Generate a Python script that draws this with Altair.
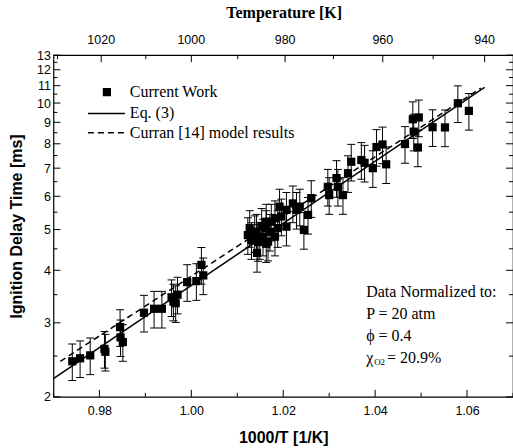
import altair as alt
import pandas as pd

# ---------------- data ----------------
inv_T = [0.9741, 0.9758, 0.9780, 0.9811, 0.9813, 0.9845, 0.9846, 0.9851, 0.9897, 0.9919,
         0.9936, 0.9957, 0.9961, 0.9966, 0.9970, 0.9991, 1.0011, 1.0022, 1.0026,
         1.0123, 1.0131, 1.0138, 1.0142, 1.0143, 1.0149, 1.0156, 1.0163, 1.0167, 1.0171,
         1.0174, 1.0182, 1.0182, 1.0192, 1.0196, 1.0207, 1.0207, 1.0221, 1.0229, 1.0236,
         1.0163, 1.0163, 1.0127, 1.0153, 1.0188, 1.0145,
         1.0245, 1.0254, 1.0261, 1.0297, 1.0300, 1.0316, 1.0319, 1.0330, 1.0341, 1.0348,
         1.0370, 1.0377, 1.0395, 1.0403, 1.0416, 1.0424, 1.0465, 1.0482, 1.0495, 1.0484,
         1.0493, 1.0525, 1.0552, 1.0580, 1.0604]
tau = [2.43, 2.47, 2.51, 2.60, 2.56, 2.93, 2.77, 2.70, 3.17, 3.24,
       3.24, 3.45, 3.37, 3.34, 3.50, 3.75, 3.77, 4.12, 3.89,
       4.85, 4.72, 4.90, 4.94, 4.40, 4.72, 4.81, 5.04, 4.68, 4.94,
       5.22, 4.81, 5.32, 5.67, 5.37, 5.08, 5.57, 5.77, 5.57, 5.67,
       5.22, 4.64, 5.04, 5.10, 5.04, 4.67,
       4.99, 5.42, 5.94, 6.32, 6.04, 6.63, 6.32, 6.04, 6.81, 7.25,
       7.32, 7.21, 7.00, 7.86, 7.97, 7.15, 7.99, 9.15, 9.24, 8.55,
       7.84, 8.76, 8.75, 9.99, 9.58]
rel_err = 0.10  # +/- 10 % error bars

eq3_x = [0.97, 1.0638]
eq3_y = [2.21, 10.9]
curran_x = [0.9715, 1.063]
curran_y = [2.43, 10.85]

x_major = [0.98, 1.00, 1.02, 1.04, 1.06]
x_minor = [0.97, 0.99, 1.01, 1.03, 1.05, 1.07]
y_major = [2, 3, 4, 5, 6, 7, 8, 9, 10, 11, 12, 13]
y_minor = [2.5, 3.5, 4.5, 5.5, 6.5, 7.5, 8.5, 9.5, 10.5, 11.5, 12.5]
temp_major = [1020, 1000, 980, 960, 940]
temp_minor = [1030, 1010, 990, 970, 950]

legend_labels = ["Current Work", "Eq. (3)", "Curran [14] model results"]
note_lines = ["Data Normalized to:", "P = 20 atm", "\u03d5 = 0.4"]

# ---------------- tables ----------------
pts = pd.DataFrame({"x": inv_T, "y": tau})
pts["lo"] = pts["y"] * (1 - rel_err)
pts["hi"] = pts["y"] * (1 + rel_err)
eq3 = pd.DataFrame({"x": eq3_x, "y": eq3_y})
cur = pd.DataFrame({"x": curran_x, "y": curran_y})
xmaj = pd.DataFrame({"x": x_major})
xmin = pd.DataFrame({"x": x_minor})
ymaj = pd.DataFrame({"y": y_major})
ymin = pd.DataFrame({"y": y_minor})
tmaj = pd.DataFrame({"x": [1000.0 / t for t in temp_major], "label": [str(t) for t in temp_major]})
tmin = pd.DataFrame({"x": [1000.0 / t for t in temp_minor]})
one = pd.DataFrame({"a": [0]})

W, H = 460, 342
SANS = "Liberation Sans"
SERIF = "Liberation Serif"

xs = alt.Scale(domain=[0.97, 1.07], nice=False, zero=False)
ys = alt.Scale(type="log", domain=[2, 13], nice=False)
xaxis = alt.Axis(values=x_major, format=".2f", ticks=False, domain=False, grid=False,
                 labelFont=SANS, labelFontSize=12.5, labelColor="black", labelPadding=8,
                 title="1000/T [1/K]", titleFont=SANS, titleFontSize=16, titleFontWeight="bold",
                 titleColor="black", titlePadding=12)
yaxis = alt.Axis(values=y_major, format="d", ticks=False, domain=False, grid=False,
                 labelFont=SANS, labelFontSize=12.5, labelColor="black", labelPadding=3,
                 title="Ignition Delay Time [ms]", titleFont=SANS, titleFontSize=16,
                 titleFontWeight="bold", titleColor="black", titlePadding=12)

X = lambda f="x": alt.X(f"{f}:Q", scale=xs, axis=xaxis)
Y = lambda f="y": alt.Y(f"{f}:Q", scale=ys, axis=yaxis)

bars = alt.Chart(pts).mark_rule(color="black", strokeWidth=1).encode(
    x=X(), y=Y("lo"), y2="hi:Q")
cap_lo = alt.Chart(pts).mark_tick(orient="horizontal", size=8, thickness=1, color="black", opacity=1).encode(
    x=X(), y=Y("lo"))
cap_hi = alt.Chart(pts).mark_tick(orient="horizontal", size=8, thickness=1, color="black", opacity=1).encode(
    x=X(), y=Y("hi"))
squares = alt.Chart(pts).mark_square(size=68, color="black", opacity=1).encode(x=X(), y=Y())

line_eq3 = alt.Chart(eq3).mark_line(color="black", strokeWidth=1.5).encode(x=X(), y=Y())
line_cur = alt.Chart(cur).mark_line(color="black", strokeWidth=1.5, strokeDash=[6, 4]).encode(x=X(), y=Y())

# inward ticks
bt_maj = alt.Chart(xmaj).mark_rule(color="black").encode(x=X(), y=alt.value(H), y2=alt.value(H - 7))
bt_min = alt.Chart(xmin).mark_rule(color="black").encode(x=X(), y=alt.value(H), y2=alt.value(H - 4))
tt_maj = alt.Chart(tmaj).mark_rule(color="black").encode(x=X(), y=alt.value(0), y2=alt.value(7))
tt_min = alt.Chart(tmin).mark_rule(color="black").encode(x=X(), y=alt.value(0), y2=alt.value(4))
lt_maj = alt.Chart(ymaj).mark_rule(color="black").encode(y=Y(), x=alt.value(0), x2=alt.value(7))
lt_min = alt.Chart(ymin).mark_rule(color="black").encode(y=Y(), x=alt.value(0), x2=alt.value(4))
rt_maj = alt.Chart(ymaj).mark_rule(color="black").encode(y=Y(), x=alt.value(W), x2=alt.value(W - 7))
rt_min = alt.Chart(ymin).mark_rule(color="black").encode(y=Y(), x=alt.value(W), x2=alt.value(W - 4))

top_labels = alt.Chart(tmaj).mark_text(font=SANS, fontSize=12.5, color="black", baseline="middle").encode(
    x=X(), y=alt.value(-15), text="label:N")
top_title = alt.Chart(one).mark_text(text="Temperature [K]", font=SERIF, fontSize=16, fontWeight="bold",
                                     color="black", baseline="middle", align="center").encode(
    x=alt.value(231), y=alt.value(-42))

# legend
leg_sq = alt.Chart(one).mark_square(size=68, color="black", opacity=1).encode(x=alt.value(53.5), y=alt.value(37))
leg_l1 = alt.Chart(one).mark_rule(color="black", strokeWidth=1.5).encode(
    x=alt.value(34.5), x2=alt.value(71.5), y=alt.value(58.3))
leg_l2 = alt.Chart(one).mark_rule(color="black", strokeWidth=1.5, strokeDash=[6, 4]).encode(
    x=alt.value(34.5), x2=alt.value(71.5), y=alt.value(77.7))
leg_txt = alt.Chart(pd.DataFrame({"t": legend_labels, "yy": [37, 58, 77.5]})).mark_text(
    font=SERIF, fontSize=16, color="black", align="left", baseline="middle").encode(
    x=alt.value(76.5), y=alt.Y("yy:Q", scale=None), text="t:N")

# annotation
note = alt.Chart(pd.DataFrame({"t": note_lines, "yy": [237, 259, 281]})).mark_text(
    font=SERIF, fontSize=16, color="black", align="left", baseline="middle").encode(
    x=alt.value(313), y=alt.Y("yy:Q", scale=None), text="t:N")
chi = alt.Chart(one).mark_text(text="\u03c7", font=SERIF, fontSize=16, color="black",
                               align="left", baseline="middle").encode(x=alt.value(313), y=alt.value(303))
chi_sub = alt.Chart(one).mark_text(text="O2", font=SERIF, fontSize=9, color="black",
                                   align="left", baseline="middle").encode(x=alt.value(321), y=alt.value(307))
chi_val = alt.Chart(one).mark_text(text="= 20.9%", font=SERIF, fontSize=16, color="black",
                                   align="left", baseline="middle").encode(x=alt.value(334), y=alt.value(303))

chart = alt.layer(
    bars, cap_lo, cap_hi, line_cur, line_eq3, squares,
    bt_maj, bt_min, tt_maj, tt_min, lt_maj, lt_min, rt_maj, rt_min,
    top_labels, top_title, leg_sq, leg_l1, leg_l2, leg_txt, note, chi, chi_sub, chi_val
).properties(
    width=W, height=H,
    autosize=alt.AutoSizeParams(type="none"),
    padding={"left": 53.5, "top": 55, "right": 0, "bottom": 51},
    background="white",
).configure_view(stroke="black", strokeWidth=1.2)

chart.save("out.html", embed_options={"renderer": "svg", "actions": False})
